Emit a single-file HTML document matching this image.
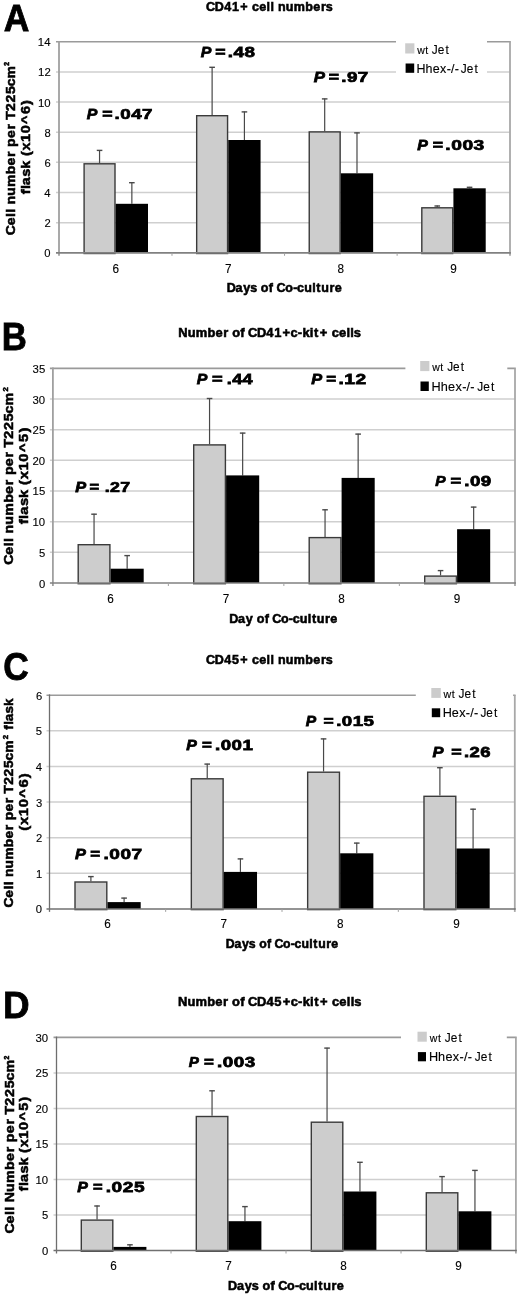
<!DOCTYPE html>
<html><head><meta charset="utf-8"><style>
html,body{margin:0;padding:0;background:#fff;}
svg{display:block;filter:blur(0.4px);}
text{font-family:"Liberation Sans", sans-serif;font-kerning:none;}
</style></head><body>
<svg width="520" height="1296" viewBox="0 0 520 1296">
<rect width="520" height="1296" fill="#fff"/>
<line x1="56" y1="71.94" x2="510" y2="71.94" stroke="#cfcfcf" stroke-width="1.5"/>
<line x1="56" y1="102.09" x2="510" y2="102.09" stroke="#cfcfcf" stroke-width="1.5"/>
<line x1="56" y1="132.23" x2="510" y2="132.23" stroke="#cfcfcf" stroke-width="1.5"/>
<line x1="56" y1="162.37" x2="510" y2="162.37" stroke="#cfcfcf" stroke-width="1.5"/>
<line x1="56" y1="192.51" x2="510" y2="192.51" stroke="#cfcfcf" stroke-width="1.5"/>
<line x1="56" y1="222.66" x2="510" y2="222.66" stroke="#cfcfcf" stroke-width="1.5"/>
<line x1="56" y1="41.8" x2="510.8" y2="41.8" stroke="#9a9a9a" stroke-width="1.6"/>
<line x1="510" y1="41.8" x2="510" y2="255.8" stroke="#a8a8a8" stroke-width="1.8"/>
<rect x="396" y="36" width="91" height="42" fill="#fff"/>
<line x1="99.55" y1="163.1" x2="99.55" y2="150" stroke="#484848" stroke-width="1.2"/>
<line x1="96.75" y1="150.4" x2="102.35" y2="150.4" stroke="#484848" stroke-width="1.4"/>
<line x1="131.85" y1="203.8" x2="131.85" y2="182.3" stroke="#484848" stroke-width="1.2"/>
<line x1="129.05" y1="182.7" x2="134.65" y2="182.7" stroke="#484848" stroke-width="1.4"/>
<rect x="84.1" y="163.8" width="30.9" height="89.7" fill="#cdcdcd" stroke="#3a3a3a" stroke-width="1.4"/>
<rect x="115.7" y="203.8" width="32.3" height="49" fill="#000"/>
<line x1="212.12" y1="115" x2="212.12" y2="66.9" stroke="#484848" stroke-width="1.2"/>
<line x1="209.32" y1="67.3" x2="214.92" y2="67.3" stroke="#484848" stroke-width="1.4"/>
<line x1="244.42" y1="140" x2="244.42" y2="111.5" stroke="#484848" stroke-width="1.2"/>
<line x1="241.62" y1="111.9" x2="247.22" y2="111.9" stroke="#484848" stroke-width="1.4"/>
<rect x="196.67" y="115.7" width="30.9" height="137.8" fill="#cdcdcd" stroke="#3a3a3a" stroke-width="1.4"/>
<rect x="228.27" y="140" width="32.3" height="112.8" fill="#000"/>
<line x1="324.69" y1="131.2" x2="324.69" y2="98.5" stroke="#484848" stroke-width="1.2"/>
<line x1="321.89" y1="98.9" x2="327.49" y2="98.9" stroke="#484848" stroke-width="1.4"/>
<line x1="356.99" y1="173.3" x2="356.99" y2="132.5" stroke="#484848" stroke-width="1.2"/>
<line x1="354.19" y1="132.9" x2="359.79" y2="132.9" stroke="#484848" stroke-width="1.4"/>
<rect x="309.24" y="131.9" width="30.9" height="121.6" fill="#cdcdcd" stroke="#3a3a3a" stroke-width="1.4"/>
<rect x="340.84" y="173.3" width="32.3" height="79.5" fill="#000"/>
<line x1="437.26" y1="207.1" x2="437.26" y2="205.6" stroke="#484848" stroke-width="1.2"/>
<line x1="434.46" y1="206" x2="440.06" y2="206" stroke="#484848" stroke-width="1.4"/>
<line x1="469.56" y1="188.3" x2="469.56" y2="186.9" stroke="#484848" stroke-width="1.2"/>
<line x1="466.76" y1="187.3" x2="472.36" y2="187.3" stroke="#484848" stroke-width="1.4"/>
<rect x="421.81" y="207.8" width="30.9" height="45.7" fill="#cdcdcd" stroke="#3a3a3a" stroke-width="1.4"/>
<rect x="453.41" y="188.3" width="32.3" height="64.5" fill="#000"/>
<line x1="59" y1="41" x2="59" y2="255.8" stroke="#a0a0a0" stroke-width="1.8"/>
<line x1="56" y1="252.8" x2="510.9" y2="252.8" stroke="#808080" stroke-width="1.7"/>
<line x1="171.99" y1="252.8" x2="171.99" y2="255.8" stroke="#a0a0a0" stroke-width="1"/>
<line x1="284.56" y1="252.8" x2="284.56" y2="255.8" stroke="#a0a0a0" stroke-width="1"/>
<line x1="397.12" y1="252.8" x2="397.12" y2="255.8" stroke="#a0a0a0" stroke-width="1"/>
<text transform="translate(44.32 257.31) scale(0.9782 1)" font-size="11.5" font-weight="normal" font-style="normal" fill="#000" stroke="#000" stroke-width="0.12">0</text>
<text transform="translate(44.46 227.17) scale(0.9771 1)" font-size="11.5" font-weight="normal" font-style="normal" fill="#000" stroke="#000" stroke-width="0.12">2</text>
<text transform="translate(44.21 196.97) scale(0.9793 1)" font-size="11.5" font-weight="normal" font-style="normal" fill="#000" stroke="#000" stroke-width="0.12">4</text>
<text transform="translate(44.38 166.89) scale(0.9774 1)" font-size="11.5" font-weight="normal" font-style="normal" fill="#000" stroke="#000" stroke-width="0.12">6</text>
<text transform="translate(44.38 136.74) scale(0.9778 1)" font-size="11.5" font-weight="normal" font-style="normal" fill="#000" stroke="#000" stroke-width="0.12">8</text>
<text transform="translate(37.93 106.6) scale(0.9895 1)" font-size="11.5" font-weight="normal" font-style="normal" fill="#000" stroke="#000" stroke-width="0.12">10</text>
<text transform="translate(38.06 76.46) scale(0.9894 1)" font-size="11.5" font-weight="normal" font-style="normal" fill="#000" stroke="#000" stroke-width="0.12">12</text>
<text transform="translate(37.81 46.26) scale(0.9896 1)" font-size="11.5" font-weight="normal" font-style="normal" fill="#000" stroke="#000" stroke-width="0.12">14</text>
<text transform="translate(112.4 272.8) scale(0.9783 1)" font-size="12" font-weight="normal" font-style="normal" fill="#000" stroke="#000" stroke-width="0.12">6</text>
<text transform="translate(225 272.8) scale(0.9780 1)" font-size="12" font-weight="normal" font-style="normal" fill="#000" stroke="#000" stroke-width="0.12">7</text>
<text transform="translate(337.57 272.8) scale(0.9787 1)" font-size="12" font-weight="normal" font-style="normal" fill="#000" stroke="#000" stroke-width="0.12">8</text>
<text transform="translate(450.15 272.8) scale(0.9784 1)" font-size="12" font-weight="normal" font-style="normal" fill="#000" stroke="#000" stroke-width="0.12">9</text>
<rect x="405.2" y="43.3" width="9.2" height="10.2" fill="#cccccc"/>
<rect x="405.6" y="63.5" width="8.6" height="9.3" fill="#000"/>
<text transform="translate(0 53.5) scale(1.0339 1)" x="403.5 411.35" y="0" font-size="10.17" font-weight="normal" font-style="normal" fill="#000" stroke="#000" stroke-width="0.12">wt</text>
<text transform="translate(0 53.5) scale(0.9121 1)" x="473.38 479.82 488.37" y="0" font-size="13.05" font-weight="normal" font-style="normal" fill="#000" stroke="#000" stroke-width="0.12">Jet</text>
<text transform="translate(0 72.8) scale(1.0209 1)" x="408.02 416.89 423.97 431.1 437.53 441.82 445.43" y="0" font-size="12.24" font-weight="normal" font-style="normal" fill="#000" stroke="#000" stroke-width="0.12">Hhex-/-</text>
<text transform="translate(0 72.8) scale(0.9121 1)" x="505.18 511.61 520.17" y="0" font-size="13.05" font-weight="normal" font-style="normal" fill="#000" stroke="#000" stroke-width="0.12">Jet</text>
<text transform="translate(86.8 119.4) scale(1.0601 1)" font-size="15" font-weight="bold" font-style="italic" fill="#000" stroke="#000" stroke-width="0.75">P</text>
<text transform="translate(102.14 119.4) scale(1.1766 1)" font-size="15" font-weight="bold" font-style="normal" fill="#000" stroke="#000" stroke-width="0.75">=</text>
<text transform="translate(114.6 119.4) scale(1.2492 1)" font-size="15" font-weight="bold" font-style="normal" fill="#000" textLength="30.3" lengthAdjust="spacing" stroke="#000" stroke-width="0.75">.047</text>
<text transform="translate(200.8 57.4) scale(1.0601 1)" font-size="15" font-weight="bold" font-style="italic" fill="#000" stroke="#000" stroke-width="0.75">P</text>
<text transform="translate(215.34 57.4) scale(1.1766 1)" font-size="15" font-weight="bold" font-style="normal" fill="#000" stroke="#000" stroke-width="0.75">=</text>
<text transform="translate(227.8 57.4) scale(1.2568 1)" font-size="15" font-weight="bold" font-style="normal" fill="#000" textLength="21.65" lengthAdjust="spacing" stroke="#000" stroke-width="0.75">.48</text>
<text transform="translate(313.78 82.4) scale(1.1216 1)" font-size="15" font-weight="bold" font-style="italic" fill="#000" stroke="#000" stroke-width="0.75">P</text>
<text transform="translate(328.74 82.4) scale(1.1766 1)" font-size="15" font-weight="bold" font-style="normal" fill="#000" stroke="#000" stroke-width="0.75">=</text>
<text transform="translate(341.2 82.4) scale(1.2508 1)" font-size="15" font-weight="bold" font-style="normal" fill="#000" textLength="21.62" lengthAdjust="spacing" stroke="#000" stroke-width="0.75">.97</text>
<text transform="translate(417.2 150.4) scale(1.0601 1)" font-size="15" font-weight="bold" font-style="italic" fill="#000" stroke="#000" stroke-width="0.75">P</text>
<text transform="translate(432.84 150.4) scale(1.1766 1)" font-size="15" font-weight="bold" font-style="normal" fill="#000" stroke="#000" stroke-width="0.75">=</text>
<text transform="translate(445.27 150.4) scale(1.2830 1)" font-size="15" font-weight="bold" font-style="normal" fill="#000" textLength="30.44" lengthAdjust="spacing" stroke="#000" stroke-width="0.75">.003</text>
<text transform="translate(0 10.8) scale(1.0196 1)" x="202.04 210.73 219.9 227.53 235.64 243.78 247.16 254.17 261.48 265.2 268.76 272.64 280.34 288.14 299.44 307.22 314.78 319.58" y="0" font-size="12.3" font-weight="bold" font-style="normal" fill="#000" stroke="#000" stroke-width="0.55">CD41+ cell numbers</text>
<text transform="translate(0 292.2) scale(1.0185 1)" x="222.57 231.3 238.89 245.78 252.38 256.14 263.99 268.38 271.54 280.12 287.83 291.74 298.69 306.49 310.56 315.36 323.42 328.57" y="0" font-size="12.33" font-weight="bold" font-style="normal" fill="#000" stroke="#000" stroke-width="0.55">Days of Co-culture</text>
<text transform="translate(3.72 30.8) scale(0.9460 1)" font-size="37.5" font-weight="bold" font-style="normal" fill="#000" stroke="#000" stroke-width="0.8">A</text>
<text transform="rotate(-90) translate(0 15) scale(1.0810 1)" x="-217.56 -208.39 -200.75 -196.87 -193.14 -189.13 -181.09 -172.97 -161.17 -153.06 -145.16 -139.98 -135.89 -127.78 -119.88 -114.71 -110.87 -102.73 -94.87 -86.97 -79.9 -72.62" y="0" font-size="12.95" font-weight="bold" font-style="normal" fill="#000" stroke="#000" stroke-width="0.55">Cell number per T225cm</text>
<text transform="rotate(-90) translate(-65.76 9.2) scale(0.8438 1)" font-size="8" font-weight="bold" font-style="normal" fill="#000" stroke="#000" stroke-width="0.55">2</text>
<text transform="rotate(-90) translate(0 29.5) scale(1.0845 1)" x="-179.16 -174.32 -170.74 -162.88 -155.53 -148.11 -143.95 -138.76 -130.99 -122.95 -114.27 -105.17 -96.77" y="0" font-size="13.29" font-weight="bold" font-style="normal" fill="#000" stroke="#000" stroke-width="0.55">flask (x10^6)</text>
<line x1="49.9" y1="399.06" x2="515" y2="399.06" stroke="#cfcfcf" stroke-width="1.5"/>
<line x1="49.9" y1="429.71" x2="515" y2="429.71" stroke="#cfcfcf" stroke-width="1.5"/>
<line x1="49.9" y1="460.37" x2="515" y2="460.37" stroke="#cfcfcf" stroke-width="1.5"/>
<line x1="49.9" y1="491.03" x2="515" y2="491.03" stroke="#cfcfcf" stroke-width="1.5"/>
<line x1="49.9" y1="521.69" x2="515" y2="521.69" stroke="#cfcfcf" stroke-width="1.5"/>
<line x1="49.9" y1="552.34" x2="515" y2="552.34" stroke="#cfcfcf" stroke-width="1.5"/>
<line x1="49.9" y1="368.4" x2="515.8" y2="368.4" stroke="#9a9a9a" stroke-width="1.6"/>
<line x1="515" y1="368.4" x2="515" y2="586" stroke="#a8a8a8" stroke-width="1.8"/>
<rect x="405.4" y="358" width="101.9" height="37" fill="#fff"/>
<line x1="94.05" y1="544" x2="94.05" y2="513.8" stroke="#484848" stroke-width="1.2"/>
<line x1="91.25" y1="514.2" x2="96.85" y2="514.2" stroke="#484848" stroke-width="1.4"/>
<line x1="127.15" y1="568.7" x2="127.15" y2="555.2" stroke="#484848" stroke-width="1.2"/>
<line x1="124.35" y1="555.6" x2="129.95" y2="555.6" stroke="#484848" stroke-width="1.4"/>
<rect x="78.2" y="544.7" width="31.7" height="39" fill="#cdcdcd" stroke="#3a3a3a" stroke-width="1.4"/>
<rect x="110.6" y="568.7" width="33.1" height="14.3" fill="#000"/>
<line x1="209.55" y1="444.2" x2="209.55" y2="398.1" stroke="#484848" stroke-width="1.2"/>
<line x1="206.75" y1="398.5" x2="212.35" y2="398.5" stroke="#484848" stroke-width="1.4"/>
<line x1="242.65" y1="475.4" x2="242.65" y2="432.7" stroke="#484848" stroke-width="1.2"/>
<line x1="239.85" y1="433.1" x2="245.45" y2="433.1" stroke="#484848" stroke-width="1.4"/>
<rect x="193.7" y="444.9" width="31.7" height="138.8" fill="#cdcdcd" stroke="#3a3a3a" stroke-width="1.4"/>
<rect x="226.1" y="475.4" width="33.1" height="107.6" fill="#000"/>
<line x1="325.05" y1="536.9" x2="325.05" y2="509.4" stroke="#484848" stroke-width="1.2"/>
<line x1="322.25" y1="509.8" x2="327.85" y2="509.8" stroke="#484848" stroke-width="1.4"/>
<line x1="358.15" y1="477.9" x2="358.15" y2="433.7" stroke="#484848" stroke-width="1.2"/>
<line x1="355.35" y1="434.1" x2="360.95" y2="434.1" stroke="#484848" stroke-width="1.4"/>
<rect x="309.2" y="537.6" width="31.7" height="46.1" fill="#cdcdcd" stroke="#3a3a3a" stroke-width="1.4"/>
<rect x="341.6" y="477.9" width="33.1" height="105.1" fill="#000"/>
<line x1="440.55" y1="575.4" x2="440.55" y2="570.2" stroke="#484848" stroke-width="1.2"/>
<line x1="437.75" y1="570.6" x2="443.35" y2="570.6" stroke="#484848" stroke-width="1.4"/>
<line x1="473.65" y1="529.2" x2="473.65" y2="506.7" stroke="#484848" stroke-width="1.2"/>
<line x1="470.85" y1="507.1" x2="476.45" y2="507.1" stroke="#484848" stroke-width="1.4"/>
<rect x="424.7" y="576.1" width="31.7" height="7.6" fill="#cdcdcd" stroke="#3a3a3a" stroke-width="1.4"/>
<rect x="457.1" y="529.2" width="33.1" height="53.8" fill="#000"/>
<line x1="52.9" y1="367.6" x2="52.9" y2="586" stroke="#a0a0a0" stroke-width="1.8"/>
<line x1="49.9" y1="583" x2="515.9" y2="583" stroke="#808080" stroke-width="1.7"/>
<line x1="168.35" y1="583" x2="168.35" y2="586" stroke="#a0a0a0" stroke-width="1"/>
<line x1="283.85" y1="583" x2="283.85" y2="586" stroke="#a0a0a0" stroke-width="1"/>
<line x1="399.35" y1="583" x2="399.35" y2="586" stroke="#a0a0a0" stroke-width="1"/>
<text transform="translate(38.92 587.51) scale(0.9782 1)" font-size="11.5" font-weight="normal" font-style="normal" fill="#000" stroke="#000" stroke-width="0.12">0</text>
<text transform="translate(38.96 556.8) scale(0.9780 1)" font-size="11.5" font-weight="normal" font-style="normal" fill="#000" stroke="#000" stroke-width="0.12">5</text>
<text transform="translate(32.53 526.2) scale(0.9895 1)" font-size="11.5" font-weight="normal" font-style="normal" fill="#000" stroke="#000" stroke-width="0.12">10</text>
<text transform="translate(32.56 495.48) scale(0.9895 1)" font-size="11.5" font-weight="normal" font-style="normal" fill="#000" stroke="#000" stroke-width="0.12">15</text>
<text transform="translate(32.52 464.89) scale(0.9898 1)" font-size="11.5" font-weight="normal" font-style="normal" fill="#000" stroke="#000" stroke-width="0.12">20</text>
<text transform="translate(32.56 434.23) scale(0.9898 1)" font-size="11.5" font-weight="normal" font-style="normal" fill="#000" stroke="#000" stroke-width="0.12">25</text>
<text transform="translate(32.52 403.57) scale(0.9899 1)" font-size="11.5" font-weight="normal" font-style="normal" fill="#000" stroke="#000" stroke-width="0.12">30</text>
<text transform="translate(32.56 372.91) scale(0.9899 1)" font-size="11.5" font-weight="normal" font-style="normal" fill="#000" stroke="#000" stroke-width="0.12">35</text>
<text transform="translate(107.3 602.5) scale(0.9783 1)" font-size="12" font-weight="normal" font-style="normal" fill="#000" stroke="#000" stroke-width="0.12">6</text>
<text transform="translate(222.83 602.5) scale(0.9780 1)" font-size="12" font-weight="normal" font-style="normal" fill="#000" stroke="#000" stroke-width="0.12">7</text>
<text transform="translate(338.33 602.5) scale(0.9787 1)" font-size="12" font-weight="normal" font-style="normal" fill="#000" stroke="#000" stroke-width="0.12">8</text>
<text transform="translate(453.84 602.5) scale(0.9784 1)" font-size="12" font-weight="normal" font-style="normal" fill="#000" stroke="#000" stroke-width="0.12">9</text>
<rect x="420.2" y="361" width="9.2" height="10.1" fill="#cccccc"/>
<rect x="420.5" y="381.5" width="8.3" height="9.5" fill="#000"/>
<text transform="translate(0 370.9) scale(1.0339 1)" x="418.01 425.86" y="0" font-size="10.17" font-weight="normal" font-style="normal" fill="#000" stroke="#000" stroke-width="0.12">wt</text>
<text transform="translate(0 370.9) scale(0.9121 1)" x="490.38 496.78 505.28" y="0" font-size="12.97" font-weight="normal" font-style="normal" fill="#000" stroke="#000" stroke-width="0.12">Jet</text>
<text transform="translate(0 390.8) scale(1.0209 1)" x="422.69 431.71 438.92 446.16 452.71 457.07 460.74" y="0" font-size="12.45" font-weight="normal" font-style="normal" fill="#000" stroke="#000" stroke-width="0.12">Hhex-/-</text>
<text transform="translate(0 390.8) scale(0.9121 1)" x="523.27 529.7 538.26" y="0" font-size="13.05" font-weight="normal" font-style="normal" fill="#000" stroke="#000" stroke-width="0.12">Jet</text>
<text transform="translate(75.19 492) scale(1.0908 1)" font-size="15" font-weight="bold" font-style="italic" fill="#000" stroke="#000" stroke-width="0.75">P</text>
<text transform="translate(89.49 492) scale(1.0968 1)" font-size="15" font-weight="bold" font-style="normal" fill="#000" stroke="#000" stroke-width="0.75">=</text>
<text transform="translate(104.67 492) scale(1.1823 1)" font-size="15" font-weight="bold" font-style="normal" fill="#000" textLength="21.43" lengthAdjust="spacing" stroke="#000" stroke-width="0.75">.27</text>
<text transform="translate(196.8 383.8) scale(1.0601 1)" font-size="15" font-weight="bold" font-style="italic" fill="#000" stroke="#000" stroke-width="0.75">P</text>
<text transform="translate(211.92 383.8) scale(1.2164 1)" font-size="15" font-weight="bold" font-style="normal" fill="#000" stroke="#000" stroke-width="0.75">=</text>
<text transform="translate(226.85 383.8) scale(1.1988 1)" font-size="15" font-weight="bold" font-style="normal" fill="#000" textLength="21.49" lengthAdjust="spacing" stroke="#000" stroke-width="0.75">.44</text>
<text transform="translate(311.19 383.8) scale(1.0908 1)" font-size="15" font-weight="bold" font-style="italic" fill="#000" stroke="#000" stroke-width="0.75">P</text>
<text transform="translate(326.18 383.8) scale(1.1234 1)" font-size="15" font-weight="bold" font-style="normal" fill="#000" stroke="#000" stroke-width="0.75">=</text>
<text transform="translate(338.47 383.8) scale(1.2773 1)" font-size="15" font-weight="bold" font-style="normal" fill="#000" textLength="21.7" lengthAdjust="spacing" stroke="#000" stroke-width="0.75">.12</text>
<text transform="translate(435.3 486.2) scale(1.0294 1)" font-size="15" font-weight="bold" font-style="italic" fill="#000" stroke="#000" stroke-width="0.75">P</text>
<text transform="translate(450.52 486.2) scale(1.2164 1)" font-size="15" font-weight="bold" font-style="normal" fill="#000" stroke="#000" stroke-width="0.75">=</text>
<text transform="translate(464.2 486.2) scale(1.2494 1)" font-size="15" font-weight="bold" font-style="normal" fill="#000" textLength="21.62" lengthAdjust="spacing" stroke="#000" stroke-width="0.75">.09</text>
<text transform="translate(0 337.3) scale(1.0372 1)" x="171.97 180.99 188.71 199.96 207.7 215.22 220.17 223.83 231.63 236.01 239.06 247.7 256.82 264.4 272.46 280.15 287.16 291.7 298.75 302.77 308.33 316.48 319.78 326.75 334.05 337.74 341.11" y="0" font-size="12.43" font-weight="bold" font-style="normal" fill="#000" stroke="#000" stroke-width="0.55">Number of CD41+c-kit+ cells</text>
<text transform="translate(0 622.9) scale(1.0249 1)" x="223.58 232.24 239.76 246.74 250.44 258.23 262.59 265.7 274.2 281.85 285.72 292.6 300.34 304.37 309.12 317.11 322.21" y="0" font-size="12.29" font-weight="bold" font-style="normal" fill="#000" stroke="#000" stroke-width="0.55">Day of Co-culture</text>
<text transform="translate(1.87 350) scale(0.9128 1)" font-size="38.08" font-weight="bold" font-style="normal" fill="#000" stroke="#000" stroke-width="0.8">B</text>
<text transform="rotate(-90) translate(0 13.3) scale(1.0810 1)" x="-522.47 -513.15 -505.39 -501.45 -497.66 -493.58 -485.42 -477.17 -465.17 -456.93 -448.9 -443.64 -439.49 -431.24 -423.22 -417.95 -414.06 -405.79 -397.79 -389.77 -382.59 -375.19" y="0" font-size="13.16" font-weight="bold" font-style="normal" fill="#000" stroke="#000" stroke-width="0.55">Cell number per T225cm</text>
<text transform="rotate(-90) translate(-391.6 7.8) scale(0.9736 1)" font-size="8" font-weight="bold" font-style="normal" fill="#000" stroke="#000" stroke-width="0.55">2</text>
<text transform="rotate(-90) translate(0 28) scale(1.0756 1)" x="-487.43 -482.42 -478.69 -470.56 -462.95 -455.31 -450.97 -445.59 -437.54 -429.22 -420.24 -410.84 -402.14" y="0" font-size="13.65" font-weight="bold" font-style="normal" fill="#000" stroke="#000" stroke-width="0.55">flask (x10^5)</text>
<line x1="46.5" y1="730.82" x2="514.8" y2="730.82" stroke="#cfcfcf" stroke-width="1.5"/>
<line x1="46.5" y1="766.43" x2="514.8" y2="766.43" stroke="#cfcfcf" stroke-width="1.5"/>
<line x1="46.5" y1="802.05" x2="514.8" y2="802.05" stroke="#cfcfcf" stroke-width="1.5"/>
<line x1="46.5" y1="837.67" x2="514.8" y2="837.67" stroke="#cfcfcf" stroke-width="1.5"/>
<line x1="46.5" y1="873.28" x2="514.8" y2="873.28" stroke="#cfcfcf" stroke-width="1.5"/>
<line x1="46.5" y1="695.2" x2="515.6" y2="695.2" stroke="#9a9a9a" stroke-width="1.6"/>
<line x1="514.8" y1="695.2" x2="514.8" y2="911.9" stroke="#a8a8a8" stroke-width="1.8"/>
<rect x="415.8" y="685" width="97.3" height="37" fill="#fff"/>
<line x1="90.9" y1="881.3" x2="90.9" y2="876.2" stroke="#484848" stroke-width="1.2"/>
<line x1="88.1" y1="876.6" x2="93.7" y2="876.6" stroke="#484848" stroke-width="1.4"/>
<line x1="124.1" y1="902.1" x2="124.1" y2="897.7" stroke="#484848" stroke-width="1.2"/>
<line x1="121.3" y1="898.1" x2="126.9" y2="898.1" stroke="#484848" stroke-width="1.4"/>
<rect x="75" y="882" width="31.8" height="27.6" fill="#cdcdcd" stroke="#3a3a3a" stroke-width="1.4"/>
<rect x="107.5" y="902.1" width="33.2" height="6.8" fill="#000"/>
<line x1="207.23" y1="778.1" x2="207.23" y2="763.7" stroke="#484848" stroke-width="1.2"/>
<line x1="204.43" y1="764.1" x2="210.03" y2="764.1" stroke="#484848" stroke-width="1.4"/>
<line x1="240.43" y1="871.9" x2="240.43" y2="858.5" stroke="#484848" stroke-width="1.2"/>
<line x1="237.63" y1="858.9" x2="243.23" y2="858.9" stroke="#484848" stroke-width="1.4"/>
<rect x="191.33" y="778.8" width="31.8" height="130.8" fill="#cdcdcd" stroke="#3a3a3a" stroke-width="1.4"/>
<rect x="223.83" y="871.9" width="33.2" height="37" fill="#000"/>
<line x1="323.56" y1="771.5" x2="323.56" y2="738.5" stroke="#484848" stroke-width="1.2"/>
<line x1="320.76" y1="738.9" x2="326.36" y2="738.9" stroke="#484848" stroke-width="1.4"/>
<line x1="356.76" y1="853.3" x2="356.76" y2="842.7" stroke="#484848" stroke-width="1.2"/>
<line x1="353.96" y1="843.1" x2="359.56" y2="843.1" stroke="#484848" stroke-width="1.4"/>
<rect x="307.66" y="772.2" width="31.8" height="137.4" fill="#cdcdcd" stroke="#3a3a3a" stroke-width="1.4"/>
<rect x="340.16" y="853.3" width="33.2" height="55.6" fill="#000"/>
<line x1="439.89" y1="795.6" x2="439.89" y2="767.3" stroke="#484848" stroke-width="1.2"/>
<line x1="437.09" y1="767.7" x2="442.69" y2="767.7" stroke="#484848" stroke-width="1.4"/>
<line x1="473.09" y1="848.5" x2="473.09" y2="808.8" stroke="#484848" stroke-width="1.2"/>
<line x1="470.29" y1="809.2" x2="475.89" y2="809.2" stroke="#484848" stroke-width="1.4"/>
<rect x="423.99" y="796.3" width="31.8" height="113.3" fill="#cdcdcd" stroke="#3a3a3a" stroke-width="1.4"/>
<rect x="456.49" y="848.5" width="33.2" height="60.4" fill="#000"/>
<line x1="49.5" y1="694.4" x2="49.5" y2="911.9" stroke="#6e6e6e" stroke-width="1.3"/>
<line x1="46.5" y1="908.9" x2="515.7" y2="908.9" stroke="#707070" stroke-width="1.5"/>
<line x1="165.66" y1="908.9" x2="165.66" y2="911.9" stroke="#a0a0a0" stroke-width="1"/>
<line x1="282" y1="908.9" x2="282" y2="911.9" stroke="#a0a0a0" stroke-width="1"/>
<line x1="398.32" y1="908.9" x2="398.32" y2="911.9" stroke="#a0a0a0" stroke-width="1"/>
<text transform="translate(35.82 913.41) scale(0.9782 1)" font-size="11.5" font-weight="normal" font-style="normal" fill="#000" stroke="#000" stroke-width="0.12">0</text>
<text transform="translate(35.95 877.74) scale(0.9758 1)" font-size="11.5" font-weight="normal" font-style="normal" fill="#000" stroke="#000" stroke-width="0.12">1</text>
<text transform="translate(35.96 842.18) scale(0.9771 1)" font-size="11.5" font-weight="normal" font-style="normal" fill="#000" stroke="#000" stroke-width="0.12">2</text>
<text transform="translate(35.88 806.56) scale(0.9780 1)" font-size="11.5" font-weight="normal" font-style="normal" fill="#000" stroke="#000" stroke-width="0.12">3</text>
<text transform="translate(35.71 770.89) scale(0.9793 1)" font-size="11.5" font-weight="normal" font-style="normal" fill="#000" stroke="#000" stroke-width="0.12">4</text>
<text transform="translate(35.86 735.27) scale(0.9780 1)" font-size="11.5" font-weight="normal" font-style="normal" fill="#000" stroke="#000" stroke-width="0.12">5</text>
<text transform="translate(35.88 699.71) scale(0.9774 1)" font-size="11.5" font-weight="normal" font-style="normal" fill="#000" stroke="#000" stroke-width="0.12">6</text>
<text transform="translate(104.2 928) scale(0.9783 1)" font-size="12" font-weight="normal" font-style="normal" fill="#000" stroke="#000" stroke-width="0.12">6</text>
<text transform="translate(220.56 928) scale(0.9780 1)" font-size="12" font-weight="normal" font-style="normal" fill="#000" stroke="#000" stroke-width="0.12">7</text>
<text transform="translate(336.89 928) scale(0.9787 1)" font-size="12" font-weight="normal" font-style="normal" fill="#000" stroke="#000" stroke-width="0.12">8</text>
<text transform="translate(453.23 928) scale(0.9784 1)" font-size="12" font-weight="normal" font-style="normal" fill="#000" stroke="#000" stroke-width="0.12">9</text>
<rect x="431.3" y="688" width="9.5" height="9.9" fill="#cccccc"/>
<rect x="431.8" y="708.3" width="8.4" height="8.9" fill="#000"/>
<text transform="translate(0 697.6) scale(1.0339 1)" x="429.03 437.02" y="0" font-size="10.35" font-weight="normal" font-style="normal" fill="#000" stroke="#000" stroke-width="0.12">wt</text>
<text transform="translate(0 697.6) scale(0.9121 1)" x="502.77 509.2 517.76" y="0" font-size="13.05" font-weight="normal" font-style="normal" fill="#000" stroke="#000" stroke-width="0.12">Jet</text>
<text transform="translate(0 716.8) scale(1.0202 1)" x="433.96 442.86 450.08 456.6 460.94 464.6" y="0" font-size="12.39" font-weight="normal" font-style="normal" fill="#000" stroke="#000" stroke-width="0.12">Hex-/-</text>
<text transform="translate(0 716.8) scale(0.9121 1)" x="526.78 533.18 541.68" y="0" font-size="12.97" font-weight="normal" font-style="normal" fill="#000" stroke="#000" stroke-width="0.12">Jet</text>
<text transform="translate(74.89 858.9) scale(1.0908 1)" font-size="15" font-weight="bold" font-style="italic" fill="#000" stroke="#000" stroke-width="0.75">P</text>
<text transform="translate(90.18 858.9) scale(1.1234 1)" font-size="15" font-weight="bold" font-style="normal" fill="#000" stroke="#000" stroke-width="0.75">=</text>
<text transform="translate(103.48 858.9) scale(1.2729 1)" font-size="15" font-weight="bold" font-style="normal" fill="#000" textLength="30.39" lengthAdjust="spacing" stroke="#000" stroke-width="0.75">.007</text>
<text transform="translate(186.2 750.4) scale(1.0601 1)" font-size="15" font-weight="bold" font-style="italic" fill="#000" stroke="#000" stroke-width="0.75">P</text>
<text transform="translate(201.88 750.4) scale(1.1234 1)" font-size="15" font-weight="bold" font-style="normal" fill="#000" stroke="#000" stroke-width="0.75">=</text>
<text transform="translate(215.11 750.4) scale(1.2458 1)" font-size="15" font-weight="bold" font-style="normal" fill="#000" textLength="30.29" lengthAdjust="spacing" stroke="#000" stroke-width="0.75">.001</text>
<text transform="translate(305.8 725.8) scale(1.0396 1)" font-size="15" font-weight="bold" font-style="italic" fill="#000" stroke="#000" stroke-width="0.75">P</text>
<text transform="translate(323.55 725.8) scale(1.1633 1)" font-size="15" font-weight="bold" font-style="normal" fill="#000" stroke="#000" stroke-width="0.75">=</text>
<text transform="translate(336.2 725.8) scale(1.2488 1)" font-size="15" font-weight="bold" font-style="normal" fill="#000" textLength="30.3" lengthAdjust="spacing" stroke="#000" stroke-width="0.75">.015</text>
<text transform="translate(432.48 756.9) scale(1.1011 1)" font-size="15" font-weight="bold" font-style="italic" fill="#000" stroke="#000" stroke-width="0.75">P</text>
<text transform="translate(451.13 756.9) scale(1.1898 1)" font-size="15" font-weight="bold" font-style="normal" fill="#000" stroke="#000" stroke-width="0.75">=</text>
<text transform="translate(463.92 756.9) scale(1.2316 1)" font-size="15" font-weight="bold" font-style="normal" fill="#000" textLength="21.57" lengthAdjust="spacing" stroke="#000" stroke-width="0.75">.26</text>
<text transform="translate(0 664.3) scale(1.0193 1)" x="202.08 210.78 219.95 227.58 235.69 243.83 247.21 254.23 261.54 265.26 268.82 272.7 280.41 288.21 299.51 307.29 314.85 319.65" y="0" font-size="12.3" font-weight="bold" font-style="normal" fill="#000" stroke="#000" stroke-width="0.55">CD45+ cell numbers</text>
<text transform="translate(0 947.9) scale(1.0185 1)" x="221.61 230.15 237.57 244.3 250.77 254.44 262.12 266.41 269.51 277.89 285.44 289.26 296.05 303.68 307.66 312.36 320.24 325.28" y="0" font-size="12.06" font-weight="bold" font-style="normal" fill="#000" stroke="#000" stroke-width="0.55">Days of Co-culture</text>
<text transform="translate(3.25 680.3) scale(0.9037 1)" font-size="39.1" font-weight="bold" font-style="normal" fill="#000" stroke="#000" stroke-width="0.8">C</text>
<text transform="rotate(-90) translate(0 13.2) scale(1.0810 1)" x="-839.44 -830.39 -822.84 -819.02 -815.33 -811.37 -803.44 -795.42 -783.77 -775.75 -767.96 -762.84 -758.81 -750.8 -743 -737.89 -734.1 -726.06 -718.29 -710.49 -703.52 -696.33" y="0" font-size="12.79" font-weight="bold" font-style="normal" fill="#000" stroke="#000" stroke-width="0.55">Cell number per T225cm</text>
<text transform="rotate(-90) translate(-739.2 7.8) scale(0.9736 1)" font-size="8" font-weight="bold" font-style="normal" fill="#000" stroke="#000" stroke-width="0.55">2</text>
<text transform="rotate(-90) translate(0 13.2) scale(1.0854 1)" x="-672.31 -667.84 -664.53 -657.28 -650.49" y="0" font-size="12.28" font-weight="bold" font-style="normal" fill="#000" stroke="#000" stroke-width="0.55">flask</text>
<text transform="rotate(-90) translate(0 28) scale(1.0839 1)" x="-766.36 -761.04 -753.07 -744.83 -735.93 -726.6 -717.99" y="0" font-size="13.62" font-weight="bold" font-style="normal" fill="#000" stroke="#000" stroke-width="0.55">(x10^6)</text>
<line x1="53.5" y1="1072.92" x2="515.9" y2="1072.92" stroke="#cfcfcf" stroke-width="1.5"/>
<line x1="53.5" y1="1108.43" x2="515.9" y2="1108.43" stroke="#cfcfcf" stroke-width="1.5"/>
<line x1="53.5" y1="1143.95" x2="515.9" y2="1143.95" stroke="#cfcfcf" stroke-width="1.5"/>
<line x1="53.5" y1="1179.47" x2="515.9" y2="1179.47" stroke="#cfcfcf" stroke-width="1.5"/>
<line x1="53.5" y1="1214.98" x2="515.9" y2="1214.98" stroke="#cfcfcf" stroke-width="1.5"/>
<line x1="53.5" y1="1037.4" x2="516.7" y2="1037.4" stroke="#9a9a9a" stroke-width="1.6"/>
<line x1="515.9" y1="1037.4" x2="515.9" y2="1253.5" stroke="#a8a8a8" stroke-width="1.8"/>
<rect x="401" y="1028" width="105.8" height="38" fill="#fff"/>
<line x1="97.05" y1="1219.4" x2="97.05" y2="1205.6" stroke="#484848" stroke-width="1.2"/>
<line x1="94.25" y1="1206" x2="99.85" y2="1206" stroke="#484848" stroke-width="1.4"/>
<line x1="129.95" y1="1246.9" x2="129.95" y2="1244.4" stroke="#484848" stroke-width="1.2"/>
<line x1="127.15" y1="1244.8" x2="132.75" y2="1244.8" stroke="#484848" stroke-width="1.4"/>
<rect x="81.3" y="1220.1" width="31.5" height="31.1" fill="#cdcdcd" stroke="#3a3a3a" stroke-width="1.4"/>
<rect x="113.5" y="1246.9" width="32.9" height="3.6" fill="#000"/>
<line x1="212.05" y1="1115.8" x2="212.05" y2="1090.4" stroke="#484848" stroke-width="1.2"/>
<line x1="209.25" y1="1090.8" x2="214.85" y2="1090.8" stroke="#484848" stroke-width="1.4"/>
<line x1="244.95" y1="1221.2" x2="244.95" y2="1206.2" stroke="#484848" stroke-width="1.2"/>
<line x1="242.15" y1="1206.6" x2="247.75" y2="1206.6" stroke="#484848" stroke-width="1.4"/>
<rect x="196.3" y="1116.5" width="31.5" height="134.7" fill="#cdcdcd" stroke="#3a3a3a" stroke-width="1.4"/>
<rect x="228.5" y="1221.2" width="32.9" height="29.3" fill="#000"/>
<line x1="327.05" y1="1121.5" x2="327.05" y2="1047.7" stroke="#484848" stroke-width="1.2"/>
<line x1="324.25" y1="1048.1" x2="329.85" y2="1048.1" stroke="#484848" stroke-width="1.4"/>
<line x1="359.95" y1="1191.5" x2="359.95" y2="1161.9" stroke="#484848" stroke-width="1.2"/>
<line x1="357.15" y1="1162.3" x2="362.75" y2="1162.3" stroke="#484848" stroke-width="1.4"/>
<rect x="311.3" y="1122.2" width="31.5" height="129" fill="#cdcdcd" stroke="#3a3a3a" stroke-width="1.4"/>
<rect x="343.5" y="1191.5" width="32.9" height="59" fill="#000"/>
<line x1="442.05" y1="1192.1" x2="442.05" y2="1176.2" stroke="#484848" stroke-width="1.2"/>
<line x1="439.25" y1="1176.6" x2="444.85" y2="1176.6" stroke="#484848" stroke-width="1.4"/>
<line x1="474.95" y1="1211.3" x2="474.95" y2="1170" stroke="#484848" stroke-width="1.2"/>
<line x1="472.15" y1="1170.4" x2="477.75" y2="1170.4" stroke="#484848" stroke-width="1.4"/>
<rect x="426.3" y="1192.8" width="31.5" height="58.4" fill="#cdcdcd" stroke="#3a3a3a" stroke-width="1.4"/>
<rect x="458.5" y="1211.3" width="32.9" height="39.2" fill="#000"/>
<line x1="56.5" y1="1036.6" x2="56.5" y2="1253.5" stroke="#6e6e6e" stroke-width="1.3"/>
<line x1="53.5" y1="1250.5" x2="516.8" y2="1250.5" stroke="#707070" stroke-width="1.5"/>
<line x1="171" y1="1250.5" x2="171" y2="1253.5" stroke="#a0a0a0" stroke-width="1"/>
<line x1="286" y1="1250.5" x2="286" y2="1253.5" stroke="#a0a0a0" stroke-width="1"/>
<line x1="401" y1="1250.5" x2="401" y2="1253.5" stroke="#a0a0a0" stroke-width="1"/>
<text transform="translate(41.92 1255.01) scale(0.9782 1)" font-size="11.5" font-weight="normal" font-style="normal" fill="#000" stroke="#000" stroke-width="0.12">0</text>
<text transform="translate(41.96 1219.44) scale(0.9780 1)" font-size="11.5" font-weight="normal" font-style="normal" fill="#000" stroke="#000" stroke-width="0.12">5</text>
<text transform="translate(35.53 1183.98) scale(0.9895 1)" font-size="11.5" font-weight="normal" font-style="normal" fill="#000" stroke="#000" stroke-width="0.12">10</text>
<text transform="translate(35.56 1148.41) scale(0.9895 1)" font-size="11.5" font-weight="normal" font-style="normal" fill="#000" stroke="#000" stroke-width="0.12">15</text>
<text transform="translate(35.52 1112.95) scale(0.9898 1)" font-size="11.5" font-weight="normal" font-style="normal" fill="#000" stroke="#000" stroke-width="0.12">20</text>
<text transform="translate(35.56 1077.43) scale(0.9898 1)" font-size="11.5" font-weight="normal" font-style="normal" fill="#000" stroke="#000" stroke-width="0.12">25</text>
<text transform="translate(35.52 1041.91) scale(0.9899 1)" font-size="11.5" font-weight="normal" font-style="normal" fill="#000" stroke="#000" stroke-width="0.12">30</text>
<text transform="translate(110.2 1269.6) scale(0.9783 1)" font-size="12" font-weight="normal" font-style="normal" fill="#000" stroke="#000" stroke-width="0.12">6</text>
<text transform="translate(225.23 1269.6) scale(0.9780 1)" font-size="12" font-weight="normal" font-style="normal" fill="#000" stroke="#000" stroke-width="0.12">7</text>
<text transform="translate(340.23 1269.6) scale(0.9787 1)" font-size="12" font-weight="normal" font-style="normal" fill="#000" stroke="#000" stroke-width="0.12">8</text>
<text transform="translate(455.24 1269.6) scale(0.9784 1)" font-size="12" font-weight="normal" font-style="normal" fill="#000" stroke="#000" stroke-width="0.12">9</text>
<rect x="417.5" y="1031.7" width="9.3" height="10" fill="#cccccc"/>
<rect x="417.9" y="1052.1" width="8.1" height="9.2" fill="#000"/>
<text transform="translate(0 1041.5) scale(1.0339 1)" x="415.68 423.54" y="0" font-size="10.17" font-weight="normal" font-style="normal" fill="#000" stroke="#000" stroke-width="0.12">wt</text>
<text transform="translate(0 1041.5) scale(0.9121 1)" x="487.63 494.07 502.63" y="0" font-size="13.05" font-weight="normal" font-style="normal" fill="#000" stroke="#000" stroke-width="0.12">Jet</text>
<text transform="translate(0 1061.3) scale(1.0209 1)" x="420.15 429.15 436.33 443.56 450.1 454.44 458.11" y="0" font-size="12.42" font-weight="normal" font-style="normal" fill="#000" stroke="#000" stroke-width="0.12">Hhex-/-</text>
<text transform="translate(0 1061.3) scale(0.9121 1)" x="520.53 526.96 535.52" y="0" font-size="13.05" font-weight="normal" font-style="normal" fill="#000" stroke="#000" stroke-width="0.12">Jet</text>
<text transform="translate(77.2 1191.6) scale(1.0601 1)" font-size="15" font-weight="bold" font-style="italic" fill="#000" stroke="#000" stroke-width="0.75">P</text>
<text transform="translate(92.89 1191.6) scale(1.0968 1)" font-size="15" font-weight="bold" font-style="normal" fill="#000" stroke="#000" stroke-width="0.75">=</text>
<text transform="translate(105.78 1191.6) scale(1.2752 1)" font-size="15" font-weight="bold" font-style="normal" fill="#000" textLength="30.41" lengthAdjust="spacing" stroke="#000" stroke-width="0.75">.025</text>
<text transform="translate(188.71 1067.4) scale(1.0089 1)" font-size="15" font-weight="bold" font-style="italic" fill="#000" stroke="#000" stroke-width="0.75">P</text>
<text transform="translate(203.88 1067.4) scale(1.1234 1)" font-size="15" font-weight="bold" font-style="normal" fill="#000" stroke="#000" stroke-width="0.75">=</text>
<text transform="translate(217.09 1067.4) scale(1.2594 1)" font-size="15" font-weight="bold" font-style="normal" fill="#000" textLength="30.34" lengthAdjust="spacing" stroke="#000" stroke-width="0.75">.003</text>
<text transform="translate(0 1005.8) scale(1.0370 1)" x="171.72 180.77 188.52 199.82 207.58 215.14 220.11 223.78 231.61 236.01 239.08 247.75 256.91 264.52 272.61 280.34 287.37 291.93 299.01 303.04 308.63 316.82 320.13 327.13 334.45 338.16 341.55" y="0" font-size="12.48" font-weight="bold" font-style="normal" fill="#000" stroke="#000" stroke-width="0.55">Number of CD45+c-kit+ cells</text>
<text transform="translate(0 1289.7) scale(1.0185 1)" x="223.84 232.63 240.27 247.21 253.86 257.65 265.55 269.97 273.16 281.8 289.56 293.5 300.49 308.35 312.44 317.28 325.4 330.59" y="0" font-size="12.41" font-weight="bold" font-style="normal" fill="#000" stroke="#000" stroke-width="0.55">Days of Co-culture</text>
<text transform="translate(3.03 1017.7) scale(0.9865 1)" font-size="37.36" font-weight="bold" font-style="normal" fill="#000" stroke="#000" stroke-width="0.8">D</text>
<text transform="rotate(-90) translate(0 14.2) scale(1.0793 1)" x="-1142.96 -1133.61 -1125.82 -1121.87 -1118.06 -1113.98 -1104.33 -1096.05 -1084.01 -1075.74 -1067.68 -1062.41 -1058.23 -1049.96 -1041.91 -1036.63 -1032.71 -1024.41 -1016.39 -1008.33 -1001.13 -993.7" y="0" font-size="13.19" font-weight="bold" font-style="normal" fill="#000" stroke="#000" stroke-width="0.55">Cell Number per T225cm</text>
<text transform="rotate(-90) translate(-1059.56 8.5) scale(0.8438 1)" font-size="8" font-weight="bold" font-style="normal" fill="#000" stroke="#000" stroke-width="0.55">2</text>
<text transform="rotate(-90) translate(0 28.2) scale(1.0756 1)" x="-1107.56 -1102.66 -1099.01 -1091.06 -1083.61 -1076.14 -1071.9 -1066.64 -1058.76 -1050.62 -1041.84 -1032.64 -1024.13" y="0" font-size="13.35" font-weight="bold" font-style="normal" fill="#000" stroke="#000" stroke-width="0.55">flask (x10^5)</text>
</svg>
</body></html>
